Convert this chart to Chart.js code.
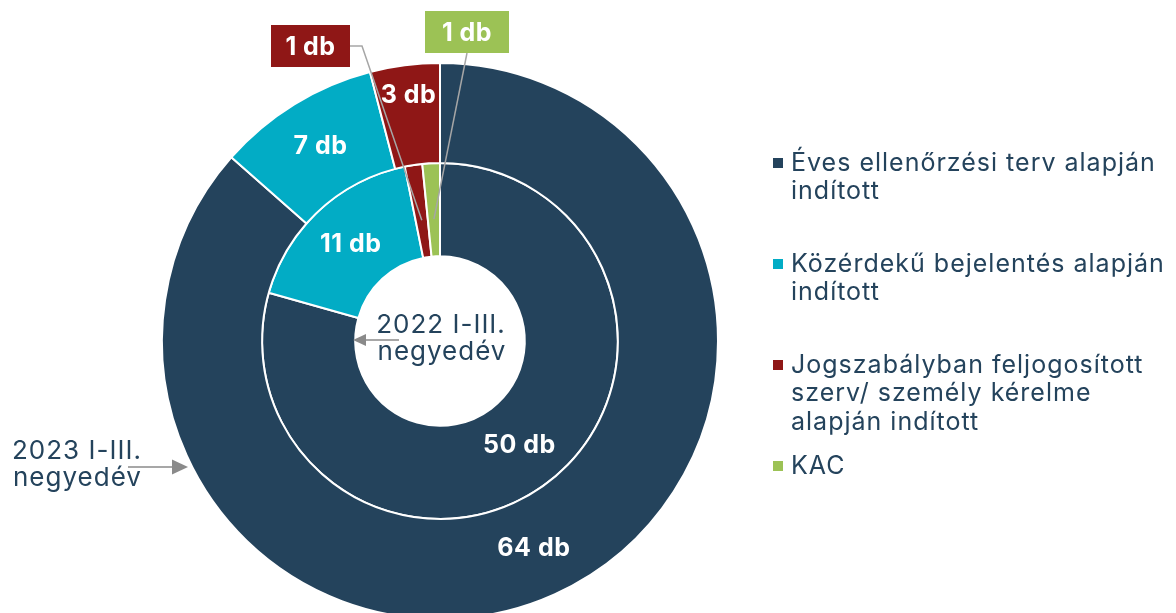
<!DOCTYPE html>
<html><head><meta charset="utf-8">
<script src="https://cdn.jsdelivr.net/npm/chart.js@4/dist/chart.umd.min.js"></script>
<style>
html,body{margin:0;padding:0;background:#fff;overflow:hidden;width:1176px;height:613px}
#wrap{position:absolute;left:0;top:0;width:1176px;height:640px}
</style></head>
<body><div id="wrap"><canvas id="c" width="1176" height="640"></canvas></div>
<script>
const categories = ['Éves ellenőrzési terv alapján\nindított','Közérdekű bejelentés alapján\nindított','Jogszabályban feljogosított\nszerv/ személy kérelme\nalapján indított','KAC'];
const periods = ['2023 I-III.\nnegyedév','2022 I-III.\nnegyedév'];
const values2023 = [64, 7, 3, 0];
const values2022 = [50, 11, 1, 1];
const colors = ['#24435C','#02ACC5','#8F1716','#9CC255'];
const unit = 'db';

const TEXT = '#24435C';
const FONT = 'Inter, "Open Sans", sans-serif';

const labelOpts = {
  radialShift: {'0-2': 20},
  callouts: {
    '1-2': {box:[271,25,79,42], path:[[350,46],[362,46]]},
    '1-3': {box:[425,11,84,42], path:[[467,53]]}
  }
};

function arrow(ctx, x1, y1, x2, y2, hl, hw){
  const ang = Math.atan2(y2-y1, x2-x1);
  const bx = x2 - hl*Math.cos(ang), by = y2 - hl*Math.sin(ang);
  ctx.strokeStyle='#8A8A8A'; ctx.fillStyle='#8A8A8A'; ctx.lineWidth=1.5;
  ctx.beginPath(); ctx.moveTo(x1,y1); ctx.lineTo(bx,by); ctx.stroke();
  ctx.beginPath(); ctx.moveTo(x2,y2);
  ctx.lineTo(bx + hw*Math.sin(ang), by - hw*Math.cos(ang));
  ctx.lineTo(bx - hw*Math.sin(ang), by + hw*Math.cos(ang));
  ctx.closePath(); ctx.fill();
}

const labelPlugin = {
  id:'sliceLabels',
  afterDatasetsDraw(chart){
    const ctx = chart.ctx;
    ctx.save();
    chart.data.datasets.forEach((ds,di)=>{
      const meta = chart.getDatasetMeta(di);
      meta.data.forEach((arc,i)=>{
        const v = ds.data[i]; if(!v) return;
        const p = arc.getProps(['x','y','startAngle','endAngle','innerRadius','outerRadius'], true);
        const mid = (p.startAngle+p.endAngle)/2;
        const key = di+'-'+i;
        const txt = v+' '+unit;
        const co = labelOpts.callouts[key];
        ctx.font = 'bold 25px '+FONT;
        ctx.letterSpacing = '0.5px';
        ctx.textAlign='center'; ctx.textBaseline='middle';
        if(co){
          const r = p.innerRadius + 0.4*(p.outerRadius-p.innerRadius);
          const ax = p.x + r*Math.cos(mid), ay = p.y + r*Math.sin(mid);
          ctx.strokeStyle='#A6A6A6'; ctx.lineWidth=1.5;
          ctx.beginPath(); ctx.moveTo(co.path[0][0], co.path[0][1]);
          co.path.slice(1).forEach(pt=>ctx.lineTo(pt[0],pt[1]));
          ctx.lineTo(ax,ay); ctx.stroke();
          const [bx,by,bw,bh] = co.box;
          ctx.fillStyle = ds.backgroundColor[i];
          ctx.fillRect(bx,by,bw,bh);
          ctx.fillStyle='#fff';
          ctx.fillText(txt, bx+bw/2, by+bh/2+1);
        } else {
          const r = (p.innerRadius+p.outerRadius)/2 + (labelOpts.radialShift[key]||0);
          ctx.fillStyle='#fff';
          ctx.fillText(txt, p.x + r*Math.cos(mid), p.y + r*Math.sin(mid));
        }
      });
    });
    // period labels
    ctx.letterSpacing = '1px';
    ctx.fillStyle = TEXT; ctx.font = '26px '+FONT; ctx.textAlign='left'; ctx.textBaseline='alphabetic';
    const p0 = periods[0].split('\n'), p1 = periods[1].split('\n');
    ctx.fillText(p0[0], 12, 459);
    ctx.fillText(p0[1], 13, 486);
    arrow(ctx, 128, 467, 188, 467, 16, 7.5);
    ctx.fillStyle = TEXT;
    ctx.textAlign='center';
    ctx.fillText(p1[0], 441, 333);
    ctx.fillText(p1[1], 442, 360);
    arrow(ctx, 399, 340, 353, 340, 13, 6);
    // legend
    ctx.font = '25px '+FONT; ctx.textAlign='left'; ctx.textBaseline='middle';
    ctx.letterSpacing = '1px';
    categories.forEach((c,i)=>{
      const y = 163 + i*101;
      ctx.fillStyle = colors[i];
      ctx.fillRect(773, y-5, 10, 10);
      ctx.fillStyle = TEXT;
      c.split('\n').forEach((ln,k)=>ctx.fillText(ln, 791, y + k*28.5));
    });
    ctx.restore();
  }
};

new Chart(document.getElementById('c'), {
  type:'doughnut',
  data:{
    labels: categories,
    datasets:[
      {label:periods[0], data:values2023, backgroundColor:colors, borderColor:'#fff', borderWidth:2, weight:100},
      {label:periods[1], data:values2022, backgroundColor:colors, borderColor:'#fff', borderWidth:2, weight:93}
    ]
  },
  options:{
    responsive:false, animation:false, devicePixelRatio:1,
    cutout:'30.5%',
    events:[],
    layout:{padding:{left:161, right:457, top:62, bottom:20}},
    plugins:{legend:{display:false}, tooltip:{enabled:false}}
  },
  plugins:[labelPlugin]
});
</script>
</body></html>
